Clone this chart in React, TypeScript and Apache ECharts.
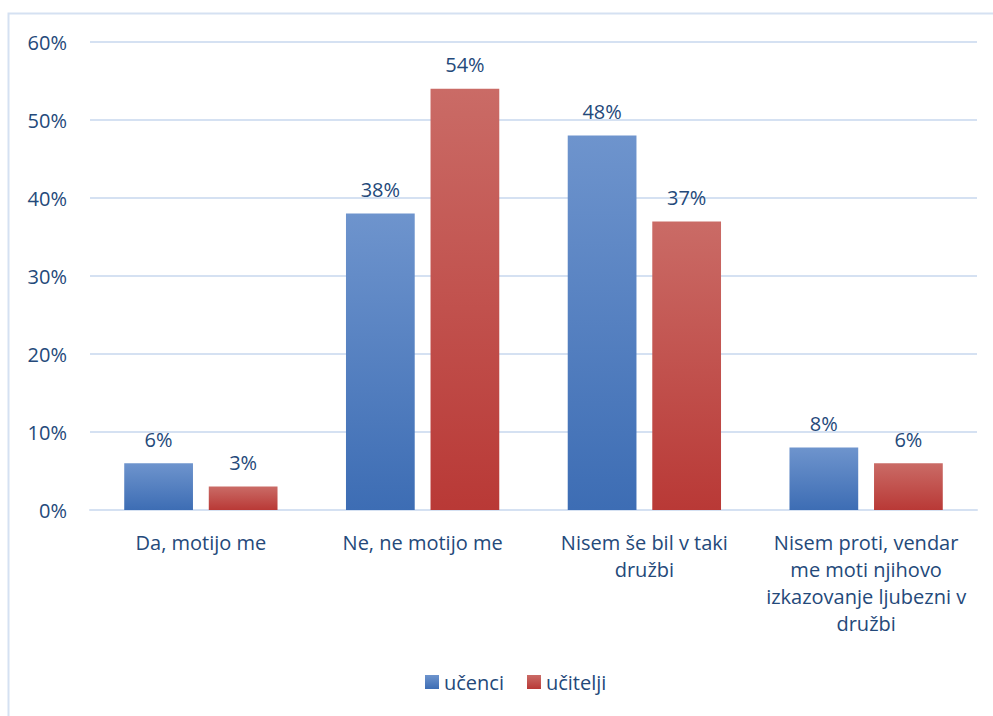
import React, { useEffect, useRef } from "react";
import * as echarts from "echarts";

const categories = [
  "Da, motijo me",
  "Ne, ne motijo me",
  "Nisem še bil v taki\ndružbi",
  "Nisem proti, vendar\nme moti njihovo\nizkazovanje ljubezni v\ndružbi",
];
const seriesNames = ["učenci", "učitelji"];
const ucenci = [6, 38, 48, 8];
const ucitelji = [3, 54, 37, 6];
const yTicks = { min: 0, max: 60, interval: 10 };

const TEXT = "#24497A";
const GRID = "#D5E1F2";
const FONT = "'Open Sans', 'Noto Sans', sans-serif";
const FS = 20;

function grad(top: string, bottom: string) {
  return new echarts.graphic.LinearGradient(0, 0, 0, 1, [
    { offset: 0, color: top },
    { offset: 1, color: bottom },
  ]);
}

export default function App() {
  const ref = useRef<HTMLDivElement>(null);
  useEffect(() => {
    if (!ref.current) return;
    const chart = echarts.init(ref.current, undefined, { renderer: "svg" });
    const label = {
      show: true,
      position: "top" as const,
      distance: 14,
      color: TEXT,
      fontSize: FS,
      fontFamily: FONT,
      formatter: (p: any) => `${p.value}%`,
    };
    chart.setOption({
      animation: false,
      backgroundColor: "#ffffff",
      textStyle: { fontFamily: FONT },
      graphic: [
        {
          type: "rect",
          shape: { x: 8.5, y: 13.5, width: 1100, height: 900 },
          style: { fill: "none", stroke: GRID, lineWidth: 2 },
          silent: true,
        },
      ],
      grid: { left: 90, right: 16, top: 42, bottom: 206, containLabel: false },
      legend: {
        bottom: 19,
        left: 420,
        itemWidth: 14,
        itemHeight: 14,
        itemGap: 23,
        icon: "rect",
        textStyle: { color: TEXT, fontSize: FS, fontFamily: FONT },
        data: seriesNames,
      },
      xAxis: {
        type: "category",
        data: categories,
        axisLine: { show: true, lineStyle: { color: GRID, width: 2 } },
        axisTick: { show: false },
        axisLabel: {
          color: TEXT,
          fontSize: FS,
          fontFamily: FONT,
          lineHeight: 27,
          margin: 19,
          interval: 0,
        },
      },
      yAxis: {
        type: "value",
        min: yTicks.min,
        max: yTicks.max,
        interval: yTicks.interval,
        axisLine: { show: false },
        axisTick: { show: false },
        splitLine: { lineStyle: { color: GRID, width: 2 } },
        axisLabel: {
          color: TEXT,
          fontSize: FS,
          fontFamily: FONT,
          margin: 23,
          formatter: (v: number) => `${v}%`,
        },
      },
      series: [
        {
          name: seriesNames[0],
          type: "bar",
          data: ucenci,
          barWidth: "31%",
          barGap: "23%",
          itemStyle: { color: grad("#6E94CD", "#3D6DB4") },
          label,
        },
        {
          name: seriesNames[1],
          type: "bar",
          data: ucitelji,
          barWidth: "31%",
          itemStyle: { color: grad("#CA6B66", "#B93936") },
          label,
        },
      ],
    });
    return () => chart.dispose();
  }, []);
  return (
    <div
      ref={ref}
      style={{ position: "fixed", left: 0, top: 0, width: 993, height: 716 }}
    />
  );
}
